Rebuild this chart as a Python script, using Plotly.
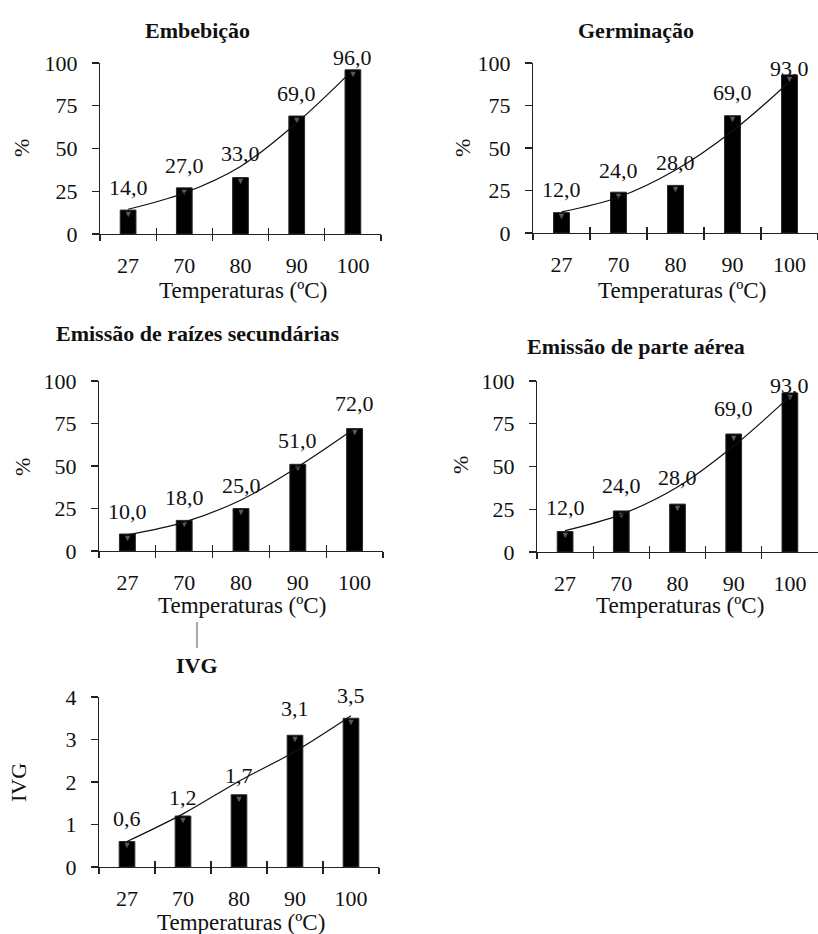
import plotly.graph_objects as go

W, H = 818, 934

# ---------------- data ----------------
temperaturas = ["27", "70", "80", "90", "100"]

embebicao = [14.0, 27.0, 33.0, 69.0, 96.0]
germinacao = [12.0, 24.0, 28.0, 69.0, 93.0]
raizes = [10.0, 18.0, 25.0, 51.0, 72.0]
parte_aerea = [12.0, 24.0, 28.0, 69.0, 93.0]
ivg = [0.6, 1.2, 1.7, 3.1, 3.5]

# trend lines (value of the curve at each category)
trend_embebicao = [14.5, 24.0, 39.5, 65.0, 96.0]
trend_germinacao = [12.4, 21.0, 37.0, 60.0, 89.0]
trend_raizes = [9.5, 17.0, 30.0, 49.5, 72.0]
trend_parte_aerea = [12.5, 22.0, 38.0, 62.0, 91.0]
trend_ivg = [0.6, 1.25, 2.02, 2.72, 3.56]

titles = ["Embebição", "Germinação", "Emissão de raízes secundárias",
          "Emissão de parte aérea", "IVG"]
ytitles = ["%", "%", "%", "%", "IVG"]
xtitle = "Temperaturas (ºC)"

# ---------------- layout (pixels) ----------------
FONT = "Liberation Serif, Times New Roman, serif"
panels = [
    dict(vals=embebicao, trend=trend_embebicao, x=(100, 381), y=(63, 234),
         rng=100, dtick=25, title=(197, 30), xt=(243, 290), yt=(22, 148),
         shifts=[8, 8, 10, 8, -2]),
    dict(vals=germinacao, trend=trend_germinacao, x=(533, 818), y=(63, 233),
         rng=100, dtick=25, title=(636, 30), xt=(682, 290), yt=(463, 148),
         shifts=[9, 7, 8, 9, -8]),
    dict(vals=raizes, trend=trend_raizes, x=(99, 383), y=(381, 551),
         rng=100, dtick=25, title=(197, 333), xt=(242, 605), yt=(22, 467),
         shifts=[8, 8, 9, 9, 11]),
    dict(vals=parte_aerea, trend=trend_parte_aerea, x=(537, 818), y=(381, 552),
         rng=100, dtick=25, title=(636, 347), xt=(680, 605), yt=(460, 465),
         shifts=[9, 11, 12, 11, -7]),
    dict(vals=ivg, trend=trend_ivg, x=(99, 379), y=(697, 867),
         rng=4, dtick=1, title=(197, 665), xt=(241, 922), yt=(18, 783),
         shifts=[9, 4, 5, 12, 8]),
]


def px(x):
    return x / W


def py(y):
    return 1 - y / H


def fmt(v):
    return f"{v:.1f}".replace(".", ",")


fig = go.Figure()
annotations = []
NP = len(panels)

for i, p in enumerate(panels):
    n = i + 1
    xa = "x" if n == 1 else f"x{n}"
    ya = "y" if n == 1 else f"y{n}"
    fig.add_trace(go.Bar(
        x=temperaturas, y=p["vals"], xaxis=xa, yaxis=ya,
        marker=dict(color="#000000", line=dict(color="#2a2a2a", width=1)),
        width=0.28, showlegend=False, hoverinfo="skip"))
    # small gray cap on top of each bar (3-D look)
    fig.add_trace(go.Scatter(
        x=temperaturas, y=p["vals"], xaxis=xa, yaxis=ya, mode="text",
        text=["▼"] * len(temperaturas), textposition="bottom center",
        textfont=dict(color="#5a5a5a", size=9), showlegend=False,
        hoverinfo="skip", cliponaxis=False))
    fig.add_trace(go.Scatter(
        x=temperaturas, y=p["trend"], xaxis=xa, yaxis=ya, mode="lines",
        line=dict(color="#111111", width=1.2, shape="spline", smoothing=1.0),
        showlegend=False, hoverinfo="skip", cliponaxis=False))

    axis_common = dict(showline=True, linecolor="#222222", linewidth=1.2,
                       showgrid=False, zeroline=False, automargin=False,
                       tickfont=dict(family=FONT, size=22, color="#111111"),
                       ticks="outside", tickcolor="#222222", tickwidth=1.2)
    dom_x = [px(p["x"][0]), px(p["x"][1])]
    fig.layout[f"xaxis{'' if n == 1 else n}"] = dict(
        axis_common, domain=dom_x, anchor=ya,
        type="category", tickson="boundaries", ticklen=6,
        categoryorder="array", categoryarray=temperaturas,
        ticklabelstandoff=11, range=[-0.5, 4.5])
    # overlay axis giving the upward half of the crossing tick marks
    m = n + NP
    fig.layout[f"xaxis{m}"] = dict(
        domain=dom_x, anchor=ya, overlaying=xa, type="category",
        categoryorder="array", categoryarray=temperaturas,
        range=[-0.5, 4.5], tickson="boundaries", ticks="inside", ticklen=6,
        tickcolor="#222222", tickwidth=1.2, showticklabels=False,
        showline=False, showgrid=False, zeroline=False, automargin=False)
    fig.add_trace(go.Scatter(
        x=temperaturas, y=[None] * len(temperaturas), xaxis=f"x{m}", yaxis=ya,
        mode="markers", showlegend=False, hoverinfo="skip"))
    fig.layout[f"yaxis{'' if n == 1 else n}"] = dict(
        axis_common, domain=[py(p["y"][1]), py(p["y"][0])], anchor=xa,
        range=[0, p["rng"]], dtick=p["dtick"], ticklen=7,
        ticklabelstandoff=10, tickformat="d")

    # data labels (category axis: position by category index)
    for k, (v, s) in enumerate(zip(p["vals"], p["shifts"])):
        annotations.append(dict(
            x=k, y=v, xref=xa, yref=ya, text=fmt(v), showarrow=False,
            yanchor="bottom", yshift=s,
            font=dict(family=FONT, size=22, color="#111111")))
    # panel title
    annotations.append(dict(
        x=px(p["title"][0]), y=py(p["title"][1]), xref="paper", yref="paper",
        text=f"<b>{titles[i]}</b>", showarrow=False, xanchor="center",
        yanchor="middle", font=dict(family=FONT, size=22, color="#111111")))
    # x title
    annotations.append(dict(
        x=px(p["xt"][0]), y=py(p["xt"][1]), xref="paper", yref="paper",
        text=xtitle, showarrow=False, xanchor="center", yanchor="middle",
        font=dict(family=FONT, size=23, color="#111111")))
    # y title
    annotations.append(dict(
        x=px(p["yt"][0]), y=py(p["yt"][1]), xref="paper", yref="paper",
        text=ytitles[i], showarrow=False, xanchor="center", yanchor="middle",
        textangle=-90, font=dict(family=FONT, size=22, color="#111111")))

fig.update_layout(
    template="none",
    width=W, height=H, margin=dict(l=0, r=0, t=0, b=0, autoexpand=False),
    paper_bgcolor="white", plot_bgcolor="white",
    annotations=annotations,
    shapes=[dict(type="line", xref="paper", yref="paper",
                 x0=px(197), x1=px(197), y0=py(622), y1=py(648),
                 line=dict(color="#555555", width=1))],
)

fig.write_html("out.html",
               config={"displayModeBar": False, "staticPlot": True},
               post_script="document.body.style.margin='0';"
                           "document.body.style.overflow='hidden';")
